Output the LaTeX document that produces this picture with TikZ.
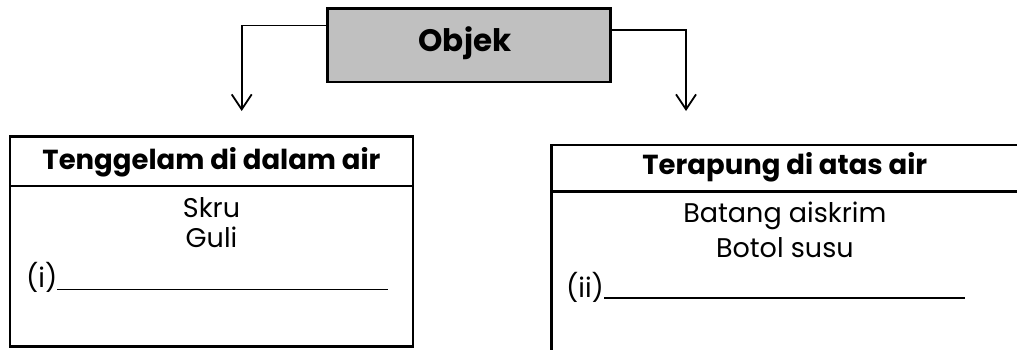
\documentclass[tikz,border=0pt]{standalone}
\usepackage{fontspec}
\setmainfont{Poppins}
\usetikzlibrary{arrows.meta}
\definecolor{objgray}{HTML}{C0C0C0}
\begin{document}
\begin{tikzpicture}[x=1pt,y=-1pt,
  boxline/.style={draw=black,line width=2.6pt,inner sep=0pt,minimum width=#1},
  conn/.style={line width=1.8pt,-{Straight Barb[length=15pt,width=20pt,line width=1.8pt]}},
  hdr/.style={font=\fontsize{27.5}{32}\selectfont\bfseries,anchor=base,inner sep=0pt},
  bodytxt/.style={font=\fontsize{27}{32}\selectfont,anchor=base,inner sep=0pt},
  blank/.style={font=\fontsize{27}{32}\selectfont,anchor=base west,inner sep=0pt},
]
\useasboundingbox (0,0) rectangle (1017,349);
% top box
\node[boxline=283.4pt,minimum height=73.7pt,fill=objgray] (objek) at (469,45.2) {};
\node[hdr,font=\fontsize{31}{36}\selectfont\bfseries] (objektxt) at (465,51) {Objek};
% left table
\node[boxline=403pt,minimum height=49.3pt] (lhead) at (211.5,161.35) {};
\node[boxline=403pt,minimum height=160.7pt] (lbody) at (211.5,266.35) {};
\node[hdr] (lhtxt) at (211.5,169) {Tenggelam di dalam air};
\node[bodytxt] (skru) at (211.5,217.5) {Skru};
\node[bodytxt] (guli) at (211.5,247.5) {Guli};
\node[blank] (li) at (26,287.5) {(i)\rule[-2.5pt]{331pt}{1.5pt}};
% right table
\node[boxline=466.3pt,minimum height=46.7pt] (rhead) at (784.85,168.35) {};
\node[boxline=466.3pt,minimum height=173.3pt] (rbody) at (784.85,278.35) {};
\node[hdr] (rhtxt) at (784.85,174) {Terapung di atas air};
\node[bodytxt] (batang) at (784.85,222.5) {Batang aiskrim};
\node[bodytxt] (botol) at (784.85,257.5) {Botol susu};
\node[blank] (rii) at (566,297.5) {(ii)\rule[-1.2pt]{361pt}{1.5pt}};
% connectors
\coordinate (lend) at (241.7,111);
\coordinate (rend) at (686,111);
\draw[conn] ([yshift=-18.4pt]objek.north west) -| (lend);
\draw[conn] ([yshift=-22.7pt]objek.north east) -| (rend);
\end{tikzpicture}
\end{document}
